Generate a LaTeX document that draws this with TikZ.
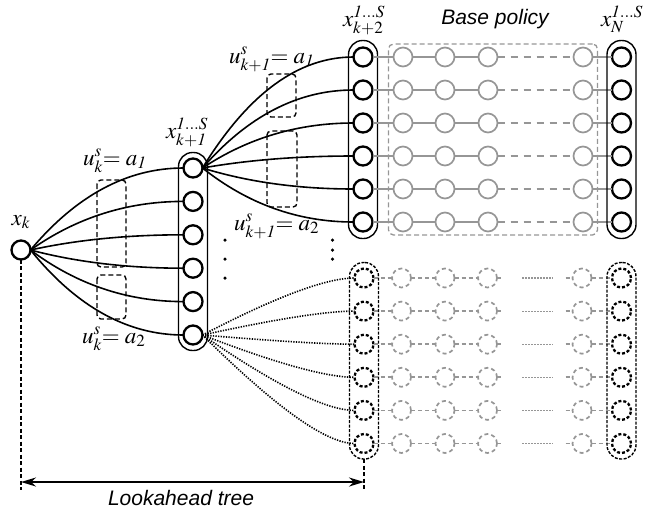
\documentclass[tikz,border=0pt]{standalone}
\usepackage{mathptmx}
\usepackage[no-math]{fontspec}
\newfontfamily\labelsans{Liberation Sans}
\usetikzlibrary{calc,fit,arrows.meta}
\definecolor{greyc}{RGB}{150,150,150}

\begin{document}
\begin{tikzpicture}[x=1pt,y=-1pt,
  every node/.style={inner sep=0pt, outer sep=0pt},
  st/.style={circle, draw, line width=2.3pt, minimum size=19pt},
  dst/.style={st, dash pattern=on 3pt off 2pt},
  gst/.style={circle, draw=greyc, line width=1.7pt, minimum size=19pt},
  gdst/.style={gst, dash pattern=on 4pt off 3pt},
  cont/.style={draw, line width=1.4pt, rounded corners=14pt, inner xsep=5pt, inner ysep=6pt},
  dcont/.style={cont, dash pattern=on 3pt off 1.5pt},
  gbox/.style={draw=greyc, line width=1.3pt, dash pattern=on 5pt off 3pt, rounded corners=5pt, inner xsep=5pt, inner ysep=3.5pt},
  fan/.style={line width=1.6pt},
  dfan/.style={line width=1.6pt, dash pattern=on 1.3pt off 1.3pt},
  glink/.style={draw=greyc, line width=1.7pt},
  glinkdash/.style={glink, dash pattern=on 7pt off 6pt},
  gdlink/.style={glink, dash pattern=on 4pt off 3pt},
  gdotlink/.style={draw=greyc, line width=1.2pt, dash pattern=on 1.5pt off 1.5pt},
  ubox/.style={draw, line width=1.4pt, dash pattern=on 5pt off 3pt, rounded corners=4pt},
  lbl/.style={font=\fontsize{23}{27}\selectfont},
  sanslbl/.style={font=\fontsize{21}{25}\selectfont\labelsans\itshape},
  vdash/.style={line width=1.2pt, dash pattern=on 4pt off 2.5pt},
  dimarrow/.style={line width=2pt, {Stealth[length=15pt,width=9pt]}-{Stealth[length=15pt,width=9pt]}},
  vdot/.style={circle, fill, minimum size=3.5pt}
]
\useasboundingbox (0,0) rectangle (647,512);

% root state
\node[st] (xk) at (21,250) {};

% first stage states and their container
\foreach \i in {1,...,6}
  \node[st] (a\i) at (193,{168+33.4*(\i-1)}) {};
\node[cont, fit=(a1)(a6)] (A) {};

% second stage states
\foreach \i in {1,...,6}
  \node[st] (b\i) at (363,{57+33*(\i-1)}) {};
\node[cont, fit=(b1)(b6), inner ysep=7pt] (B) {};

% base policy rollouts
\foreach \i in {1,...,6} {
  \foreach \j/\x in {1/403,2/445,3/488,4/583}
    \node[gst] (g\j\i) at (\x,{57+33*(\i-1)}) {};
  \node[st] (n\i) at (621.5,{57+33*(\i-1)}) {};
  \draw[glink] (b\i) -- (g1\i);
  \draw[glink] (g1\i) -- (g2\i);
  \draw[glink] (g2\i) -- (g3\i);
  \draw[glinkdash] (g3\i) -- (g4\i);
  \draw[glink] (g4\i) -- (n\i);
}
\node[cont, fit=(n1)(n6), inner ysep=7pt] (N) {};
\node[gbox, fit=(g11)(g46)] (BP) {};

% second, unexpanded branch
\foreach \i in {1,...,6} {
  \node[dst] (d\i) at (364,{278+33.1*(\i-1)}) {};
  \foreach \j/\x in {1/401.5,2/445,3/487.5,4/582}
    \node[gdst] (h\j\i) at (\x,{278+33.1*(\i-1)}) {};
  \node[dst] (m\i) at (621.5,{278+33.1*(\i-1)}) {};
  \draw[gdlink] (d\i) -- (h1\i);
  \draw[gdlink] (h1\i) -- (h2\i);
  \draw[gdlink] (h2\i) -- (h3\i);
  \draw[gdlink] (h3\i.east) -- ++(6,0);
  \draw[gdotlink] ($(h3\i.east)+(25,0)$) -- ($(h4\i.west)+(-20,0)$);
  \draw[gdlink] ($(h4\i.west)+(-7,0)$) -- (h4\i.west);
  \draw[gdlink] (h4\i) -- (m\i);
}
\node[dcont, fit=(d1)(d6)] (D) {};
\node[dcont, fit=(m1)(m6)] (M) {};

% lookahead fans
\foreach \i in {1,...,6} {
  \coordinate (c) at ($(a\i.west)!0.55!(a\i.west -| xk.east)$);
  \draw[fan] (xk.east) .. controls ($(xk.east)!0.667!(c)$) and ($(a\i.west)!0.667!(c)$) .. (a\i.west);
  \coordinate (c) at ($(b\i.west)!0.55!(b\i.west -| a1.east)$);
  \draw[fan] (a1.east) .. controls ($(a1.east)!0.667!(c)$) and ($(b\i.west)!0.667!(c)$) .. (b\i.west);
  \coordinate (c) at ($(d\i.west)!0.28!(d\i.west -| a6.east)$);
  \draw[dfan] (a6.east) .. controls ($(a6.east)!0.667!(c)$) and ($(d\i.west)!0.667!(c)$) .. (d\i.west);
}

% control groupings
\draw[ubox] (97,180) rectangle (126,267);
\draw[ubox] (97,275) rectangle (126,319);
\draw[ubox] (267,74) rectangle (296,117);
\draw[ubox] (267,131) rectangle (297,207);

% vertical ellipses
\foreach \y in {240,259,278}
  \node[vdot] at (225,\y) {};
\foreach \y in {240,250,259}
  \node[vdot] at (332.5,\y) {};

% labels
\node[lbl, anchor=base] (lxk) at (21,225) {$x_k$};
\node[lbl, anchor=base west] (la) at (166,138) {$x^{\mathit{1\ldots S}}_{k+\mathit{1}}$};
\node[lbl, anchor=base west] (lb) at (343,26) {$x^{\mathit{1\ldots S}}_{k+2}$};
\node[lbl, anchor=base west] (ln) at (601,26) {$x^{\mathit{1\ldots S}}_{N}$};
\node[lbl, anchor=base west] (u1) at (83,165) {$u^s_k{=}\;a_{\mathit{1}}$};
\node[lbl, anchor=base west] (u2) at (82,343) {$u^s_k{=}\;a_2$};
\node[lbl, anchor=base west] (u3) at (229,63) {$u^s_{k+\mathit{1}}{=}\;a_{\mathit{1}}$};
\node[lbl, anchor=base west] (u4) at (234,230) {$u^s_{k+\mathit{1}}{=}\;a_2$};
\node[sanslbl, anchor=base] (lbp) at (495,24) {Base policy};

% lookahead horizon
\coordinate (xkb) at (21,490);
\coordinate (db) at (364,490);
\coordinate (al) at (21,482);
\coordinate (ar) at (364,482);
\draw[vdash] (xk.south) -- (xkb);
\draw[vdash] (D.south) -- (db);
\draw[dimarrow] (al) -- (ar);
\node[sanslbl, anchor=base] (llt) at (181,505) {Lookahead tree};
\end{tikzpicture}
\end{document}
